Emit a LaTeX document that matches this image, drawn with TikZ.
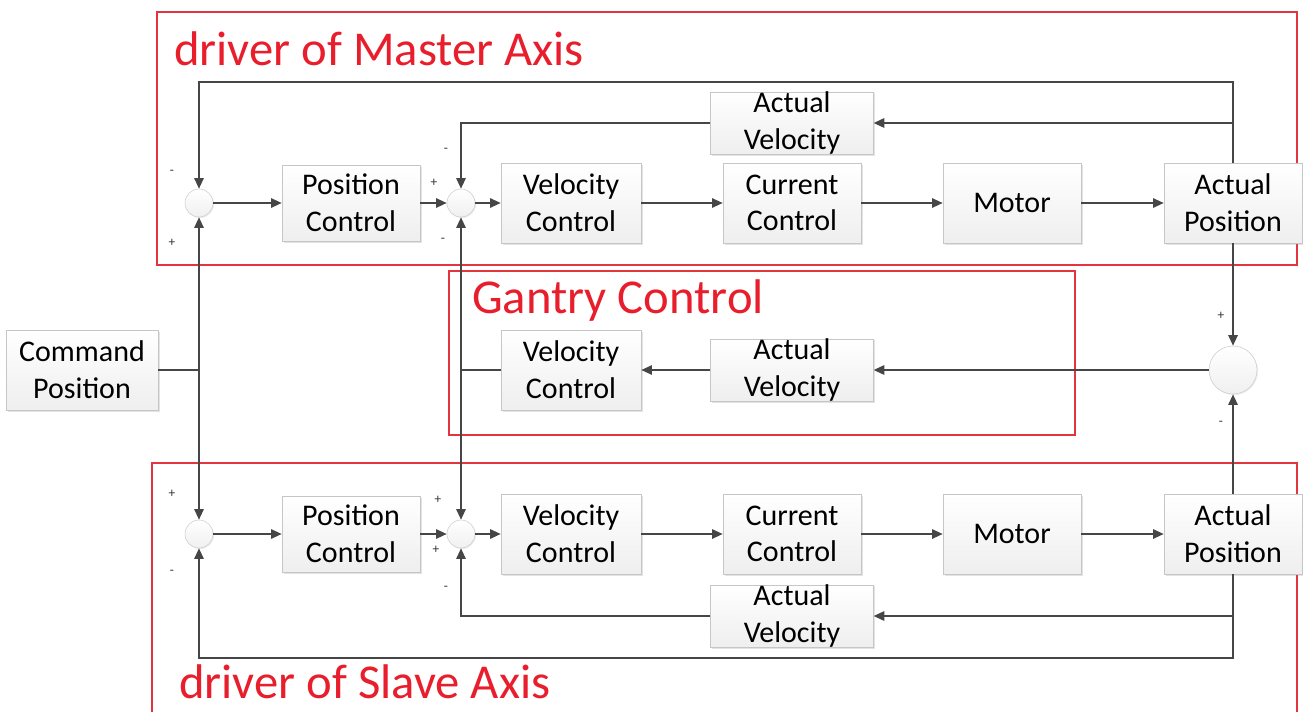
\documentclass[tikz,border=0pt]{standalone}
\usepackage{fontspec}
\setmainfont{Carlito}
\usetikzlibrary{shadows,arrows.meta}
\definecolor{framered}{RGB}{228,52,62}
\definecolor{titlered}{RGB}{232,30,44}
\definecolor{wire}{RGB}{70,70,70}

\tikzset{
  block/.style={draw=gray!45, top color=white, bottom color=gray!13,
    drop shadow={opacity=0.22,shadow xshift=1.2pt,shadow yshift=-1.2pt},
    align=center, inner sep=0pt, font=\fontsize{22.5}{27.5}\selectfont},
  sumnode/.style={circle, draw=gray!40, top color=white, bottom color=gray!12,
    drop shadow={opacity=0.15,shadow xshift=0.8pt,shadow yshift=-0.8pt}, inner sep=0pt},
  line/.style={draw=wire, line width=1.4pt},
  link/.style={line, -{Triangle[length=8pt,width=7pt]}},
  frame/.style={draw=framered, line width=1.1pt},
  title/.style={text=titlered, anchor=base west, inner sep=0pt, font=\fontsize{36.5}{40}\selectfont},
  sign/.style={font=\fontsize{10}{10}\selectfont, text=black!80, inner sep=0pt}
}

\begin{document}
\begin{tikzpicture}[x=0.75pt,y=-0.75pt]
  \useasboundingbox (0,0) rectangle (1303,711);

  % frames
  \draw[frame] (157,12) rectangle (1297,265);
  \draw[frame] (449,271) rectangle (1075,435);
  \draw[frame] (152,463) rectangle (1297,730);
  \node[title] (tmaster) at (174,65) {driver of Master Axis};
  \node[title] (tgantry) at (472,313) {Gantry Control};
  \node[title] (tslave) at (179,698) {driver of Slave Axis};

  % master axis
  \node[sumnode, minimum size=21pt] (s1m) at (199,203) {};
  \node[block, minimum width=103.5pt, minimum height=57pt] (pcm) at (351,203) {Position\\Control};
  \node[sumnode, minimum size=21pt] (s2m) at (461,203) {};
  \node[block, minimum width=105pt, minimum height=60pt] (vcm) at (571,203) {Velocity\\Control};
  \node[block, minimum width=103.5pt, minimum height=60pt] (ccm) at (792,203) {Current\\Control};
  \node[block, minimum width=103.5pt, minimum height=60pt] (mom) at (1012,203) {Motor};
  \node[block, minimum width=103.5pt, minimum height=60pt] (apm) at (1233,203) {Actual\\Position};
  \node[block, minimum width=122pt, minimum height=45pt] (avm) at (792,123) {Actual\\Velocity};

  % gantry control
  \node[sumnode, minimum size=36pt] (s3) at (1233,370) {};
  \node[block, minimum width=122pt, minimum height=45pt] (avg) at (792,370) {Actual\\Velocity};
  \node[block, minimum width=105pt, minimum height=60pt] (vcg) at (571,370) {Velocity\\Control};
  \node[block, minimum width=114pt, minimum height=60pt] (cmd) at (82,370) {Command\\Position};

  % slave axis
  \node[sumnode, minimum size=21pt] (s1s) at (199,534) {};
  \node[block, minimum width=103.5pt, minimum height=57pt] (pcs) at (351,534) {Position\\Control};
  \node[sumnode, minimum size=21pt] (s2s) at (461,534) {};
  \node[block, minimum width=105pt, minimum height=60pt] (vcs) at (571,534) {Velocity\\Control};
  \node[block, minimum width=103.5pt, minimum height=60pt] (ccs) at (792,534) {Current\\Control};
  \node[block, minimum width=103.5pt, minimum height=60pt] (mos) at (1012,534) {Motor};
  \node[block, minimum width=103.5pt, minimum height=60pt] (aps) at (1233,534) {Actual\\Position};
  \node[block, minimum width=122pt, minimum height=45pt] (avs) at (792,616) {Actual\\Velocity};

  \coordinate (topm) at (1233,82);
  \coordinate (vfm) at (1233,123);
  \coordinate (vfs) at (1233,616);
  \coordinate (bots) at (1233,658);
  \coordinate (cj) at (199,370);
  \coordinate (gj) at (461,370);

  % master wires
  \draw[link] (s1m) -- (pcm);
  \draw[link] (pcm) -- (s2m);
  \draw[link] (s2m) -- (vcm);
  \draw[link] (vcm) -- (ccm);
  \draw[link] (ccm) -- (mom);
  \draw[link] (mom) -- (apm);
  \draw[link] (apm.north) -- (topm) -| (s1m.north);
  \draw[link] (vfm) -- (avm.east);
  \draw[link] (avm.west) -| (s2m.north);

  % slave wires
  \draw[link] (s1s) -- (pcs);
  \draw[link] (pcs) -- (s2s);
  \draw[link] (s2s) -- (vcs);
  \draw[link] (vcs) -- (ccs);
  \draw[link] (ccs) -- (mos);
  \draw[link] (mos) -- (aps);
  \draw[link] (aps.south) -- (bots) -| (s1s.south);
  \draw[link] (vfs) -- (avs.east);
  \draw[link] (avs.west) -| (s2s.south);

  % gantry wires
  \draw[link] (apm.south) -- (s3.north);
  \draw[link] (aps.north) -- (s3.south);
  \draw[link] (s3.west) -- (avg.east);
  \draw[link] (avg.west) -- (vcg.east);
  \draw[line] (vcg.west) -- (gj);
  \draw[link] (gj) -- (s2m.south);
  \draw[link] (gj) -- (s2s.north);
  \draw[line] (cmd.east) -- (cj);
  \draw[link] (cj) -- (s1m.south);
  \draw[link] (cj) -- (s1s.north);

  % signs
  \node[sign] (g1) at (172,172) {-};
  \node[sign] (g2) at (172,243) {+};
  \node[sign] (g3) at (434,183) {+};
  \node[sign] (g4) at (446,150) {-};
  \node[sign] (g5) at (443,240) {-};
  \node[sign] (g6) at (172,494) {+};
  \node[sign] (g7) at (172,572) {-};
  \node[sign] (g8) at (438,500) {+};
  \node[sign] (g9) at (436,550) {+};
  \node[sign] (g10) at (446,588) {-};
  \node[sign] (g11) at (1221,316) {+};
  \node[sign] (g12) at (1221,423) {-};
\end{tikzpicture}
\end{document}
